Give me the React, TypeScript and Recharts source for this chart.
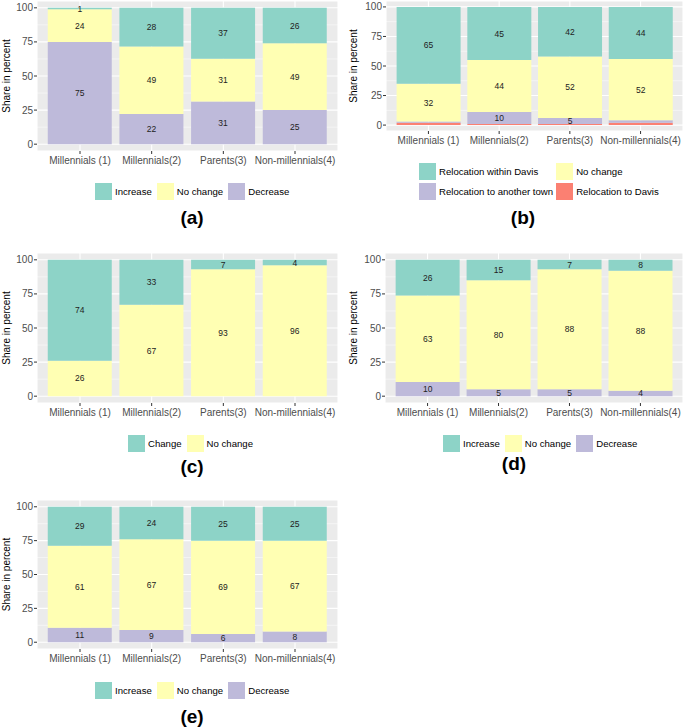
import { Bar, BarChart, CartesianGrid, LabelList, XAxis, YAxis } from 'recharts';

const FONT = '"Liberation Sans", Arial, Helvetica, sans-serif';

const categories = ['Millennials (1)', 'Millennials(2)', 'Parents(3)', 'Non-millennials(4)'];

// (a)
const aIncrease = [1, 28.4, 37.3, 26];
const aNoChange = [24, 49.4, 31.4, 49];
const aDecrease = [75, 22.2, 31.3, 25];

// (b)
const bWithinDavis = [65, 45, 42, 44];
const bNoChange = [32, 44, 52, 52];
const bAnotherTown = [1, 10, 5, 2];
const bToDavis = [2, 1, 1, 2];

// (c)
const cChange = [74, 33, 7, 4];
const cNoChange = [26, 67, 93, 96];

// (d)
const dIncrease = [26.2, 15, 7, 8];
const dNoChange = [63.4, 80, 88, 88];
const dDecrease = [10.4, 5, 5, 4];

// (e)
const eIncrease = [28.8, 24, 25, 25];
const eNoChange = [60.6, 67, 69, 67];
const eDecrease = [10.6, 9, 6, 8];

const yTicks = [0, 25, 50, 75, 100];
const minorTicks = [12.5, 37.5, 62.5, 87.5];

const TEAL = '#8DD3C7';
const YELLOW = '#FFFFB3';
const PURPLE = '#BEBADA';
const RED = '#FB8072';

type Series = { key: string; label: string; color: string; values: number[] };

type PanelProps = {
  left: number;
  top: number;
  yAxisW: number;
  plotW: number;
  plotTop: number;
  plotH: number;
  series: Series[]; // bottom to top
  minLabel: number;
  titleOffset: number;
};

function Panel({ left, top, yAxisW, plotW, plotTop, plotH, series, minLabel, titleOffset }: PanelProps) {
  const data = categories.map((name, i) => {
    const row: Record<string, string | number> = { name };
    series.forEach((s) => {
      row[s.key] = s.values[i];
    });
    return row;
  });
  const pad = plotW / 42;
  return (
    <div style={{ position: 'absolute', left, top }}>
      <BarChart
        width={yAxisW + plotW}
        height={plotTop + plotH + 30}
        data={data}
        margin={{ top: plotTop, right: 0, bottom: 0, left: 0 }}
        barCategoryGap="5%"
      >
        <CartesianGrid fill="#EBEBEB" stroke="#FFFFFF" strokeWidth={1.1} />
        <CartesianGrid horizontalValues={minorTicks} vertical={false} stroke="#FFFFFF" strokeWidth={0.5} />
        <XAxis
          dataKey="name"
          interval={0}
          height={30}
          padding={{ left: pad, right: pad }}
          axisLine={false}
          tickLine={{ stroke: '#333333' }}
          tickSize={3}
          tickMargin={3}
          tick={{ fill: '#4D4D4D', fontSize: 10, fontFamily: FONT }}
        />
        <YAxis
          type="number"
          domain={[-5, 105]}
          ticks={yTicks}
          width={yAxisW}
          axisLine={false}
          tickLine={{ stroke: '#333333' }}
          tickSize={3}
          tickMargin={1}
          tick={{ fill: '#4D4D4D', fontSize: 10, fontFamily: FONT }}
          label={{
            value: 'Share in percent',
            angle: -90,
            position: 'insideLeft',
            offset: titleOffset,
            style: { textAnchor: 'middle', fill: '#000000', fontSize: 10, fontFamily: FONT },
          }}
        />
        {series.map((s) => (
          <Bar key={s.key} dataKey={s.key} stackId="s" fill={s.color} isAnimationActive={false}>
            <LabelList
              dataKey={s.key}
              position="center"
              formatter={(v: any) => (Number(v) >= minLabel ? Math.round(Number(v)) : '')}
              fill="#222222"
              fontSize={8.5}
              fontFamily={FONT}
            />
          </Bar>
        ))}
      </BarChart>
    </div>
  );
}

type LegendItem = { label: string; color: string };

function Legend({ left, top, items, columns, gap }: { left: number; top: number; items: LegendItem[]; columns: number; gap: number }) {
  return (
    <div
      style={{
        position: 'absolute',
        left,
        top,
        display: 'grid',
        gridTemplateColumns: `repeat(${columns}, auto)`,
        columnGap: gap,
        rowGap: 3,
        fontFamily: FONT,
        fontSize: 9.6,
        color: '#000000',
      }}
    >
      {items.map((it) => (
        <div key={it.label} style={{ display: 'flex', alignItems: 'center', height: 17 }}>
          <div style={{ width: 17, height: 17, background: it.color, marginRight: 3 }} />
          <span style={{ whiteSpace: 'nowrap' }}>{it.label}</span>
        </div>
      ))}
    </div>
  );
}

function Title({ cx, cy, text }: { cx: number; cy: number; text: string }) {
  return (
    <div
      style={{
        position: 'absolute',
        left: cx - 40,
        top: cy - 11,
        width: 80,
        lineHeight: '22px',
        textAlign: 'center',
        fontFamily: FONT,
        fontWeight: 'bold',
        fontSize: 19,
        color: '#000000',
      }}
    >
      {text}
    </div>
  );
}

const threeItems: LegendItem[] = [
  { label: 'Increase', color: TEAL },
  { label: 'No change', color: YELLOW },
  { label: 'Decrease', color: PURPLE },
];

export default function App() {
  const aSeries: Series[] = [
    { key: 'dec', label: 'Decrease', color: PURPLE, values: aDecrease },
    { key: 'noc', label: 'No change', color: YELLOW, values: aNoChange },
    { key: 'inc', label: 'Increase', color: TEAL, values: aIncrease },
  ];
  const bSeries: Series[] = [
    { key: 'toDavis', label: 'Relocation to Davis', color: RED, values: bToDavis },
    { key: 'another', label: 'Relocation to another town', color: PURPLE, values: bAnotherTown },
    { key: 'noc', label: 'No change', color: YELLOW, values: bNoChange },
    { key: 'within', label: 'Relocation within Davis', color: TEAL, values: bWithinDavis },
  ];
  const cSeries: Series[] = [
    { key: 'noc', label: 'No change', color: YELLOW, values: cNoChange },
    { key: 'chg', label: 'Change', color: TEAL, values: cChange },
  ];
  const dSeries: Series[] = [
    { key: 'dec', label: 'Decrease', color: PURPLE, values: dDecrease },
    { key: 'noc', label: 'No change', color: YELLOW, values: dNoChange },
    { key: 'inc', label: 'Increase', color: TEAL, values: dIncrease },
  ];
  const eSeries: Series[] = [
    { key: 'dec', label: 'Decrease', color: PURPLE, values: eDecrease },
    { key: 'noc', label: 'No change', color: YELLOW, values: eNoChange },
    { key: 'inc', label: 'Increase', color: TEAL, values: eIncrease },
  ];

  return (
    <div style={{ position: 'absolute', left: 0, top: 0, width: 685, height: 727, background: '#FFFFFF' }}>
      <Panel left={0} top={0} yAxisW={37} plotW={301} plotTop={1} plotH={150} series={aSeries} minLabel={1} titleOffset={6} />
      <Legend left={95} top={183} items={threeItems} columns={3} gap={5} />
      <Title cx={192} cy={218} text="(a)" />

      <Panel left={340} top={0} yAxisW={46} plotW={297} plotTop={1} plotH={130} series={bSeries} minLabel={5} titleOffset={13} />
      <Legend
        left={419}
        top={163}
        items={[
          { label: 'Relocation within Davis', color: TEAL },
          { label: 'No change', color: YELLOW },
          { label: 'Relocation to another town', color: PURPLE },
          { label: 'Relocation to Davis', color: RED },
        ]}
        columns={2}
        gap={3}
      />
      <Title cx={523} cy={218} text="(b)" />

      <Panel left={0} top={240} yAxisW={37} plotW={301} plotTop={13} plotH={150} series={cSeries} minLabel={1} titleOffset={6} />
      <Legend
        left={128}
        top={435}
        items={[
          { label: 'Change', color: TEAL },
          { label: 'No change', color: YELLOW },
        ]}
        columns={2}
        gap={5}
      />
      <Title cx={192} cy={467} text="(c)" />

      <Panel left={340} top={240} yAxisW={45} plotW={298} plotTop={13} plotH={150} series={dSeries} minLabel={1} titleOffset={13} />
      <Legend left={443} top={435} items={threeItems} columns={3} gap={5} />
      <Title cx={514} cy={464} text="(d)" />

      <Panel left={0} top={490} yAxisW={37} plotW={301} plotTop={10} plotH={149} series={eSeries} minLabel={1} titleOffset={6} />
      <Legend left={95} top={682} items={threeItems} columns={3} gap={5} />
      <Title cx={192} cy={717} text="(e)" />
    </div>
  );
}
